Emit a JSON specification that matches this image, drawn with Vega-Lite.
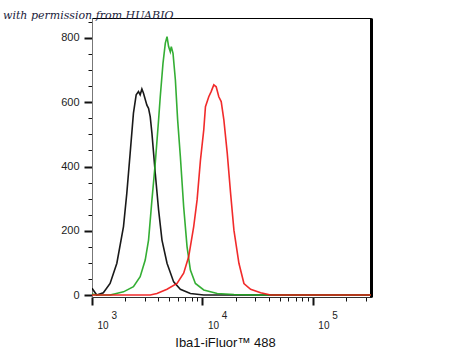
{
  "$schema": "https://vega.github.io/schema/vega-lite/v6.json",
  "width": 279,
  "height": 279,
  "autosize": {"type": "none"},
  "padding": {"left": 92, "right": 79, "top": 18, "bottom": 63},
  "background": "white",
  "config": {
    "font": "Liberation Sans",
    "view": {"stroke": "black", "strokeWidth": 1}
  },
  "title": {
    "text": "with permission from HUABIO",
    "font": "DejaVu Serif",
    "fontStyle": "italic",
    "fontWeight": "normal",
    "fontSize": 11,
    "color": "#1c1c3c",
    "anchor": "start",
    "frame": "group",
    "dx": -89,
    "dy": 14,
    "offset": 0,
    "baseline": "alphabetic"
  },
  "data": {
    "values": [
      {"series": "black", "x": 1000, "y": 21},
      {"series": "black", "x": 1104, "y": 0},
      {"series": "black", "x": 1267, "y": 7},
      {"series": "black", "x": 1458, "y": 36},
      {"series": "black", "x": 1679, "y": 99},
      {"series": "black", "x": 1928, "y": 213},
      {"series": "black", "x": 2067, "y": 317},
      {"series": "black", "x": 2215, "y": 441},
      {"series": "black", "x": 2373, "y": 566},
      {"series": "black", "x": 2512, "y": 623},
      {"series": "black", "x": 2636, "y": 633},
      {"series": "black", "x": 2730, "y": 623},
      {"series": "black", "x": 2830, "y": 641},
      {"series": "black", "x": 2926, "y": 628},
      {"series": "black", "x": 3140, "y": 591},
      {"series": "black", "x": 3251, "y": 581},
      {"series": "black", "x": 3366, "y": 555},
      {"series": "black", "x": 3490, "y": 503},
      {"series": "black", "x": 3739, "y": 379},
      {"series": "black", "x": 4008, "y": 265},
      {"series": "black", "x": 4302, "y": 171},
      {"series": "black", "x": 4779, "y": 99},
      {"series": "black", "x": 5486, "y": 41},
      {"series": "black", "x": 6310, "y": 18},
      {"series": "black", "x": 7780, "y": 5},
      {"series": "black", "x": 10280, "y": 0},
      {"series": "black", "x": 336000, "y": 0},
      {"series": "green", "x": 1000, "y": 3},
      {"series": "green", "x": 1100, "y": 0},
      {"series": "green", "x": 1458, "y": 0},
      {"series": "green", "x": 1928, "y": 10},
      {"series": "green", "x": 2373, "y": 26},
      {"series": "green", "x": 2730, "y": 57},
      {"series": "green", "x": 3033, "y": 109},
      {"series": "green", "x": 3251, "y": 171},
      {"series": "green", "x": 3490, "y": 296},
      {"series": "green", "x": 3739, "y": 410},
      {"series": "green", "x": 4008, "y": 545},
      {"series": "green", "x": 4150, "y": 617},
      {"series": "green", "x": 4393, "y": 721},
      {"series": "green", "x": 4613, "y": 784},
      {"series": "green", "x": 4779, "y": 804},
      {"series": "green", "x": 4939, "y": 773},
      {"series": "green", "x": 5117, "y": 757},
      {"series": "green", "x": 5224, "y": 773},
      {"series": "green", "x": 5416, "y": 752},
      {"series": "green", "x": 5689, "y": 669},
      {"series": "green", "x": 5963, "y": 545},
      {"series": "green", "x": 6310, "y": 431},
      {"series": "green", "x": 6761, "y": 275},
      {"series": "green", "x": 7257, "y": 150},
      {"series": "green", "x": 7780, "y": 78},
      {"series": "green", "x": 8635, "y": 36},
      {"series": "green", "x": 10280, "y": 16},
      {"series": "green", "x": 13610, "y": 5},
      {"series": "green", "x": 19280, "y": 2},
      {"series": "green", "x": 31400, "y": 0},
      {"series": "green", "x": 336000, "y": 0},
      {"series": "red", "x": 1000, "y": 0},
      {"series": "red", "x": 3366, "y": 0},
      {"series": "red", "x": 3873, "y": 5},
      {"series": "red", "x": 4779, "y": 18},
      {"series": "red", "x": 5888, "y": 36},
      {"series": "red", "x": 6761, "y": 68},
      {"series": "red", "x": 7503, "y": 119},
      {"series": "red", "x": 8336, "y": 213},
      {"series": "red", "x": 8946, "y": 296},
      {"series": "red", "x": 9594, "y": 420},
      {"series": "red", "x": 10280, "y": 514},
      {"series": "red", "x": 10650, "y": 586},
      {"series": "red", "x": 11410, "y": 617},
      {"series": "red", "x": 11990, "y": 633},
      {"series": "red", "x": 12670, "y": 654},
      {"series": "red", "x": 13320, "y": 648},
      {"series": "red", "x": 14070, "y": 617},
      {"series": "red", "x": 14790, "y": 602},
      {"series": "red", "x": 15630, "y": 545},
      {"series": "red", "x": 16780, "y": 441},
      {"series": "red", "x": 17980, "y": 317},
      {"series": "red", "x": 19280, "y": 202},
      {"series": "red", "x": 21400, "y": 99},
      {"series": "red", "x": 23760, "y": 36},
      {"series": "red", "x": 27300, "y": 18},
      {"series": "red", "x": 33660, "y": 7},
      {"series": "red", "x": 41500, "y": 0},
      {"series": "red", "x": 336000, "y": 0}
    ]
  },
  "encoding": {
    "x": {
      "field": "x",
      "type": "quantitative",
      "scale": {"type": "log", "domain": [1000, 336000], "nice": false},
      "axis": {
        "title": "Iba1-iFluor™ 488",
        "titleFont": "Liberation Sans",
        "titleFontSize": 13,
        "titleFontWeight": "normal",
        "titleColor": "#111",
        "titleX": 133,
        "titleY": 49,
        "titleBaseline": "alphabetic",
        "titleAnchor": "middle",
        "values": [1000, 2000, 3000, 4000, 5000, 6000, 7000, 8000, 9000, 10000, 20000, 30000, 40000, 50000, 60000, 70000, 80000, 90000, 100000, 200000, 300000],
        "labelExpr": "datum.value == 1000 ? ['\u200b\u00a0\u00a0\u00a0\u00a0\u00a03', '10'] : datum.value == 10000 ? ['\u200b\u00a0\u00a0\u00a0\u00a0\u00a04', '10'] : datum.value == 100000 ? ['\u200b\u00a0\u00a0\u00a0\u00a0\u00a05', '10'] : ''",
        "labelAlign": "left",
        "labelOffset": 5,
        "labelFontSize": 10,
        "labelLineHeight": 10,
        "labelPadding": 5,
        "labelColor": "#222",
        "labelOverlap": false,
        "labelFlush": false,
        "labelBound": false,
        "grid": false,
        "domainColor": "#333",
        "domainWidth": 1,
        "tickColor": "#111",
        "tickSize": {"condition": {"test": "datum.value == 1000 || datum.value == 10000 || datum.value == 100000", "value": 8}, "value": 4},
        "tickWidth": {"condition": {"test": "datum.value == 1000 || datum.value == 10000 || datum.value == 100000", "value": 2}, "value": 1}
      }
    }
  },
  "layer": [
    {
      "mark": {"type": "line", "strokeWidth": 1.6, "clip": true, "opacity": 0.9},
      "encoding": {
        "y": {
          "field": "y",
          "type": "quantitative",
          "scale": {"domain": [-6, 862], "nice": false, "zero": false},
          "axis": {
            "title": null,
            "values": [0, 50, 100, 150, 200, 250, 300, 350, 400, 450, 500, 550, 600, 650, 700, 750, 800, 850],
            "labelExpr": "datum.value % 200 == 0 ? datum.label : ''",
            "labelFontSize": 11,
            "labelColor": "#222",
            "labelPadding": 5,
            "labelOverlap": false,
            "labelFlush": false,
            "grid": false,
            "domainColor": "#777",
            "tickColor": "#111",
            "tickSize": {"condition": {"test": "datum.value % 200 == 0", "value": 8}, "value": 4},
            "tickWidth": {"condition": {"test": "datum.value % 200 == 0", "value": 2}, "value": 1}
          }
        },
        "color": {
          "field": "series",
          "type": "nominal",
          "scale": {"domain": ["black", "green", "red"], "range": ["#000000", "#1ea51e", "#f01414"]},
          "legend": null
        }
      }
    },
    {
      "mark": {"type": "line", "opacity": 0},
      "encoding": {
        "y": {
          "field": "y",
          "type": "quantitative",
          "axis": {
            "orient": "right",
            "title": null,
            "labels": false,
            "ticks": false,
            "grid": false,
            "domainColor": "#000",
            "domainWidth": 3
          }
        },
        "detail": {"field": "series"}
      }
    }
  ],
  "resolve": {"axis": {"y": "independent"}}
}
